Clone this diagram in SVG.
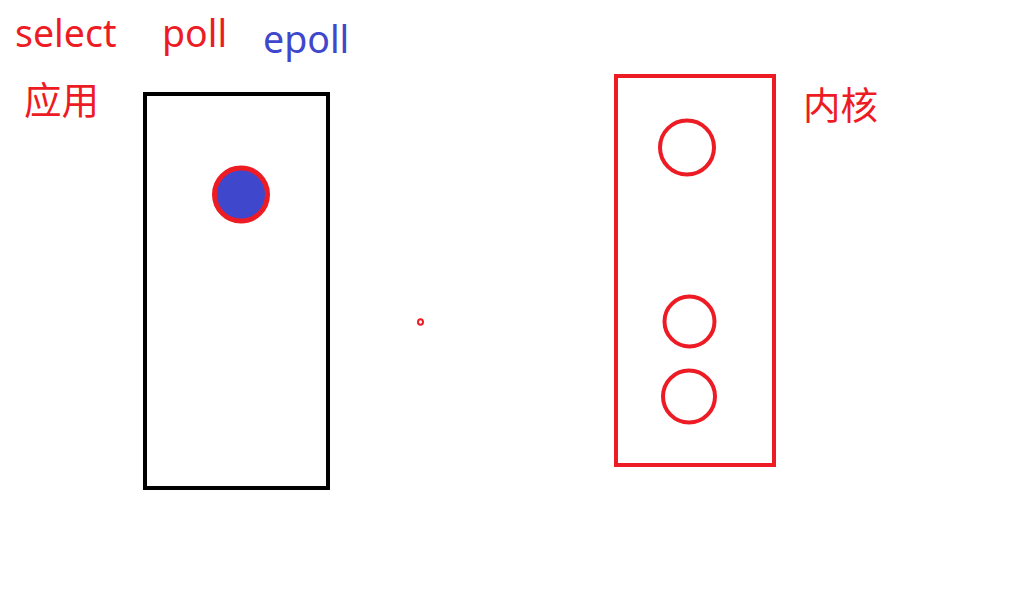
<svg xmlns="http://www.w3.org/2000/svg" width="1018" height="604" viewBox="0 0 1018 604">
<style>
.lbl{font-family:"Noto Sans","Noto Sans CJK SC",sans-serif;font-size:37.5px}
.cjk{font-family:"Noto Sans CJK SC","Noto Sans",sans-serif;font-size:37.5px}
.red{fill:#ED1C24}
.blue{fill:#3F48CC}
.ring{fill:none;stroke:#ED1C24;stroke-width:4}
</style>
<rect width="1018" height="604" fill="#FFFFFF"/>
<g id="labels">
<text class="lbl red" x="15" y="47">select</text>
<text class="lbl red" x="162" y="47">poll</text>
<text class="lbl blue" x="263" y="53">epoll</text>
<text class="cjk red" x="24" y="114">应用</text>
<text class="cjk red" x="803" y="119">内核</text>
</g>
<g id="app">
<rect x="145" y="94" width="183" height="394" fill="none" stroke="#000000" stroke-width="4"/>
<circle cx="241" cy="194.5" r="26.5" fill="#3F48CC" stroke="#ED1C24" stroke-width="5"/>
</g>
<g id="kernel">
<rect x="616" y="76" width="158" height="389" fill="none" stroke="#ED1C24" stroke-width="4"/>
<circle class="ring" cx="687" cy="147.5" r="27"/>
<circle class="ring" cx="689.5" cy="321.5" r="25"/>
<circle class="ring" cx="689" cy="396.5" r="26"/>
</g>
<g id="dot">
<ellipse cx="420.5" cy="322" rx="2.5" ry="2.8" fill="#FFFFFF" stroke="#ED1C24" stroke-width="2"/>
</g>
<g id="connectors"></g>
</svg>
